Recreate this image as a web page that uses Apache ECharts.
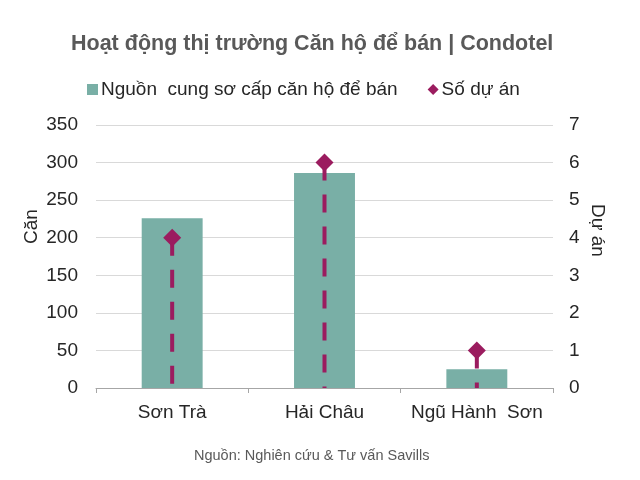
<!DOCTYPE html>
<html>
<head>
<meta charset="utf-8">
<script src="https://cdn.jsdelivr.net/npm/echarts@6/dist/echarts.min.js"></script>
<style>html,body{margin:0;padding:0;background:#fff;}#c{width:640px;height:480px;}</style>
</head>
<body>
<div id="c"></div>
<script>
const categories = ['Sơn Trà', 'Hải Châu', 'Ngũ Hành  Sơn'];
const supply = [226, 286, 25];
const projects = [4, 6, 1];
const leftTicks = {min: 0, max: 350, interval: 50};
const rightTicks = {min: 0, max: 7, interval: 1};

const FONT = '"Liberation Sans", Arial, sans-serif';
const TEAL = '#79AFA6';
const PURPLE = '#9B1C5F';

const chart = echarts.init(document.getElementById('c'));
chart.setOption({
  animation: false,
  textStyle: {fontFamily: FONT},
  title: [{
    text: 'Hoạt động thị trường Căn hộ để bán | Condotel',
    left: 66, top: 28,
    textStyle: {fontFamily: FONT, fontSize: 21.5, fontWeight: 'bold', color: '#595959'}
  }, {
    text: 'Nguồn: Nghiên cứu & Tư vấn Savills',
    left: 189, top: 443,
    textStyle: {fontFamily: FONT, fontSize: 14.5, fontWeight: 'normal', color: '#595959'}
  }],
  legend: {
    data: [{name: 'Nguồn  cung sơ cấp căn hộ để bán', icon: 'rect'}, {name: 'Số dự án', icon: 'diamond'}],
    top: 75, left: 82,
    itemWidth: 11, itemHeight: 11, itemGap: 30,
    textStyle: {fontFamily: FONT, fontSize: 19, color: '#262626', padding: [0, 0, 0, -2]}
  },
  grid: {left: 96, right: 87, top: 125, bottom: 92},
  xAxis: {
    type: 'category', data: categories,
    axisLine: {lineStyle: {color: '#a6a6a6', width: 1}},
    axisTick: {show: true, alignWithLabel: false, length: 5, lineStyle: {color: '#a6a6a6'}},
    axisLabel: {interval: 0, fontFamily: FONT, fontSize: 19, color: '#262626', margin: 15}
  },
  yAxis: [{
    type: 'value', min: leftTicks.min, max: leftTicks.max, interval: leftTicks.interval,
    name: 'Căn', nameLocation: 'middle', nameGap: 55, nameRotate: 90, nameMoveOverlap: false,
    nameTextStyle: {fontFamily: FONT, fontSize: 19, color: '#262626', padding: [0, 0, 0, 60]},
    axisLine: {show: false}, axisTick: {show: false},
    splitLine: {lineStyle: {color: '#d9d9d9', width: 1}},
    axisLabel: {fontFamily: FONT, fontSize: 19, color: '#262626', margin: 18}
  }, {
    type: 'value', min: rightTicks.min, max: rightTicks.max, interval: rightTicks.interval,
    name: 'Dự án', nameLocation: 'middle', nameGap: 35, nameRotate: -90, nameMoveOverlap: false,
    nameTextStyle: {fontFamily: FONT, fontSize: 19, color: '#262626', padding: [0, 52, 0, 0]},
    axisLine: {show: false}, axisTick: {show: false},
    splitLine: {show: false},
    axisLabel: {fontFamily: FONT, fontSize: 19, color: '#262626', margin: 16}
  }],
  series: [{
    name: 'Nguồn  cung sơ cấp căn hộ để bán',
    type: 'bar', yAxisIndex: 0, data: supply, barWidth: '40%',
    itemStyle: {color: TEAL}
  }, {
    name: 'dropLines', type: 'custom', yAxisIndex: 1,
    data: projects.map((v, i) => [i, v]),
    encode: {x: 0, y: 1},
    renderItem: function (params, api) {
      const top = api.coord([api.value(0), api.value(1)]);
      const bot = api.coord([api.value(0), 0]);
      return {type: 'line', shape: {x1: top[0], y1: top[1], x2: bot[0], y2: bot[1]},
        style: {stroke: PURPLE, lineWidth: 4, lineDash: [18, 14]}};
    },
    z: 3
  }, {
    name: 'Số dự án', type: 'scatter', yAxisIndex: 1, data: projects,
    symbol: 'diamond', symbolSize: 18,
    itemStyle: {color: PURPLE, opacity: 1}, z: 4
  }]
});
</script>
</body>
</html>
